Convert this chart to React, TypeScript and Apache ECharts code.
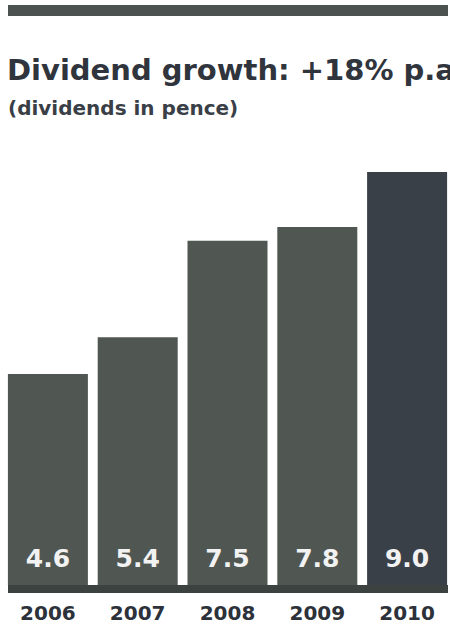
import React, { useEffect, useRef } from "react";
import * as echarts from "echarts";

const years = ["2006", "2007", "2008", "2009", "2010"];
const dividends = [4.6, 5.4, 7.5, 7.8, 9.0];
const barColors = ["#505753", "#505753", "#505753", "#505753", "#3a4048"];
const titleText = "Dividend growth: +18% p.a";
const subtitleText = "(dividends in pence)";

export default function App() {
  const ref = useRef<HTMLDivElement>(null);
  useEffect(() => {
    if (!ref.current) return;
    const chart = echarts.init(ref.current, undefined, { renderer: "svg" });
    chart.setOption({
      animation: false,
      backgroundColor: "#ffffff",
      title: [
        {
          text: titleText,
          left: 7,
          top: 55,
          padding: 0,
          textStyle: { fontFamily: "DejaVu Sans", fontWeight: "bold", fontSize: 29, color: "#30353d" },
        },
        {
          text: subtitleText,
          left: 8,
          top: 98,
          padding: 0,
          textStyle: { fontFamily: "DejaVu Sans", fontWeight: "bold", fontSize: 20, color: "#3a3f47" },
        },
      ],
      graphic: [
        { type: "rect", shape: { x: 8, y: 5, width: 440, height: 11 }, style: { fill: "#4b524f" } },
        { type: "rect", shape: { x: 8, y: 585, width: 440, height: 8 }, style: { fill: "#3c423f" }, z: 10 },
      ],
      grid: { left: 3, right: -2, top: 172, bottom: 45, containLabel: false, outerBoundsMode: "none" },
      xAxis: {
        type: "category",
        data: years,
        axisLine: { show: false },
        axisTick: { show: false },
        axisLabel: {
          margin: 18,
          fontFamily: "DejaVu Sans",
          fontWeight: "bold",
          fontSize: 20,
          color: "#2c313a",
        },
      },
      yAxis: {
        type: "value",
        min: 0,
        max: 9,
        show: false,
        splitLine: { show: false },
      },
      series: [
        {
          type: "bar",
          barWidth: 80,
          data: dividends.map((v, i) => ({ value: v, itemStyle: { color: barColors[i] } })),
          label: {
            show: true,
            position: "insideBottom",
            distance: 14,
            formatter: (p: any) => Number(p.value).toFixed(1),
            fontFamily: "DejaVu Sans",
            fontWeight: "bold",
            fontSize: 25,
            color: "#f2f2f2",
          },
        },
      ],
    });
    return () => chart.dispose();
  }, []);
  return (
    <div
      ref={ref}
      style={{ position: "fixed", left: 0, top: 0, width: 450, height: 630, overflow: "hidden", background: "#fff" }}
    />
  );
}
